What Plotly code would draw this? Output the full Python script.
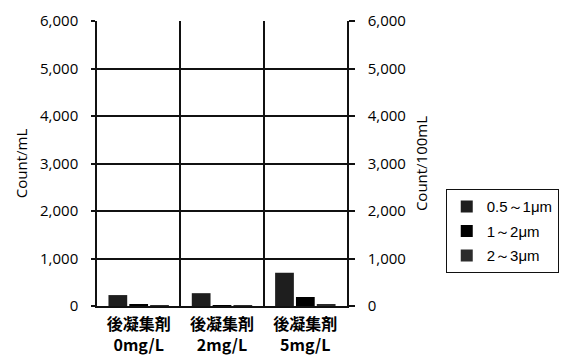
import plotly.graph_objects as go

categories = ["後凝集剤<br>0mg/L", "後凝集剤<br>2mg/L", "後凝集剤<br>5mg/L"]
series_names = ["0.5～1μm", "1～2μm", "2～3μm"]
vals_05_1 = [230, 270, 700]
vals_1_2 = [25, 20, 190]
vals_2_3 = [5, 5, 30]
y_ticks = [0, 1000, 2000, 3000, 4000, 5000, 6000]
y_ticktext = ["0", "1,000", "2,000", "3,000", "4,000", "5,000", "6,000"]

colors = ["#1e1e1e", "#000000", "#2c2c2c"]

fig = go.Figure()
for name, vals, c in zip(series_names, [vals_05_1, vals_1_2, vals_2_3], colors):
    fig.add_trace(go.Bar(x=categories, y=vals, name=name, legendgroup=name,
                         marker=dict(color=c, line=dict(width=0))))

# invisible trace to activate right axis
fig.add_trace(go.Scatter(x=categories, y=[None, None, None], yaxis="y2", showlegend=False, hoverinfo="skip"))

tickfont = dict(family="Open Sans", size=15, color="#000")

fig.update_layout(
    width=563, height=348,
    margin=dict(l=89, r=215, t=13, b=50),
    paper_bgcolor="white", plot_bgcolor="white",
    barmode="group", bargap=0.25, bargroupgap=0.1,
    showlegend=True,
    legend=dict(x=1.395, y=0.41, xanchor="left", yanchor="top",
                bordercolor="#111", borderwidth=1, bgcolor="white",
                font=dict(family="Liberation Sans", size=15, color="#000"),
                tracegroupgap=2, itemwidth=30),
    xaxis=dict(type="category", tickson="boundaries", showgrid=True, gridcolor="#111", gridwidth=1.5,
               showline=True, linecolor="#111", linewidth=1.5, ticks="", automargin=False,
               ticklabelstandoff=3,
               tickfont=dict(family="Noto Sans CJK JP", size=16, color="#000", weight="bold")),
    yaxis=dict(range=[0, 6000], tickvals=y_ticks, ticktext=y_ticktext, showgrid=True,
               gridcolor="#111", gridwidth=1.5, showline=True, linecolor="#111", linewidth=1.5,
               ticks="outside", ticklen=4, tickcolor="#111", tickwidth=1.5, ticklabelstandoff=10,
               tickfont=tickfont, zeroline=False, automargin=False,
               title=dict(text="Count/mL", font=tickfont, standoff=9)),
    yaxis2=dict(range=[0, 6000], tickvals=y_ticks, ticktext=y_ticktext, overlaying="y", side="right",
                showgrid=False, showline=True, linecolor="#111", linewidth=1.5,
                ticks="outside", ticklen=6, tickcolor="#111", tickwidth=1.5, ticklabelstandoff=10,
                tickfont=tickfont, zeroline=False, automargin=False,
                title=dict(text="Count/100mL", font=tickfont, standoff=12)),
)

fig.write_html("out.html")
